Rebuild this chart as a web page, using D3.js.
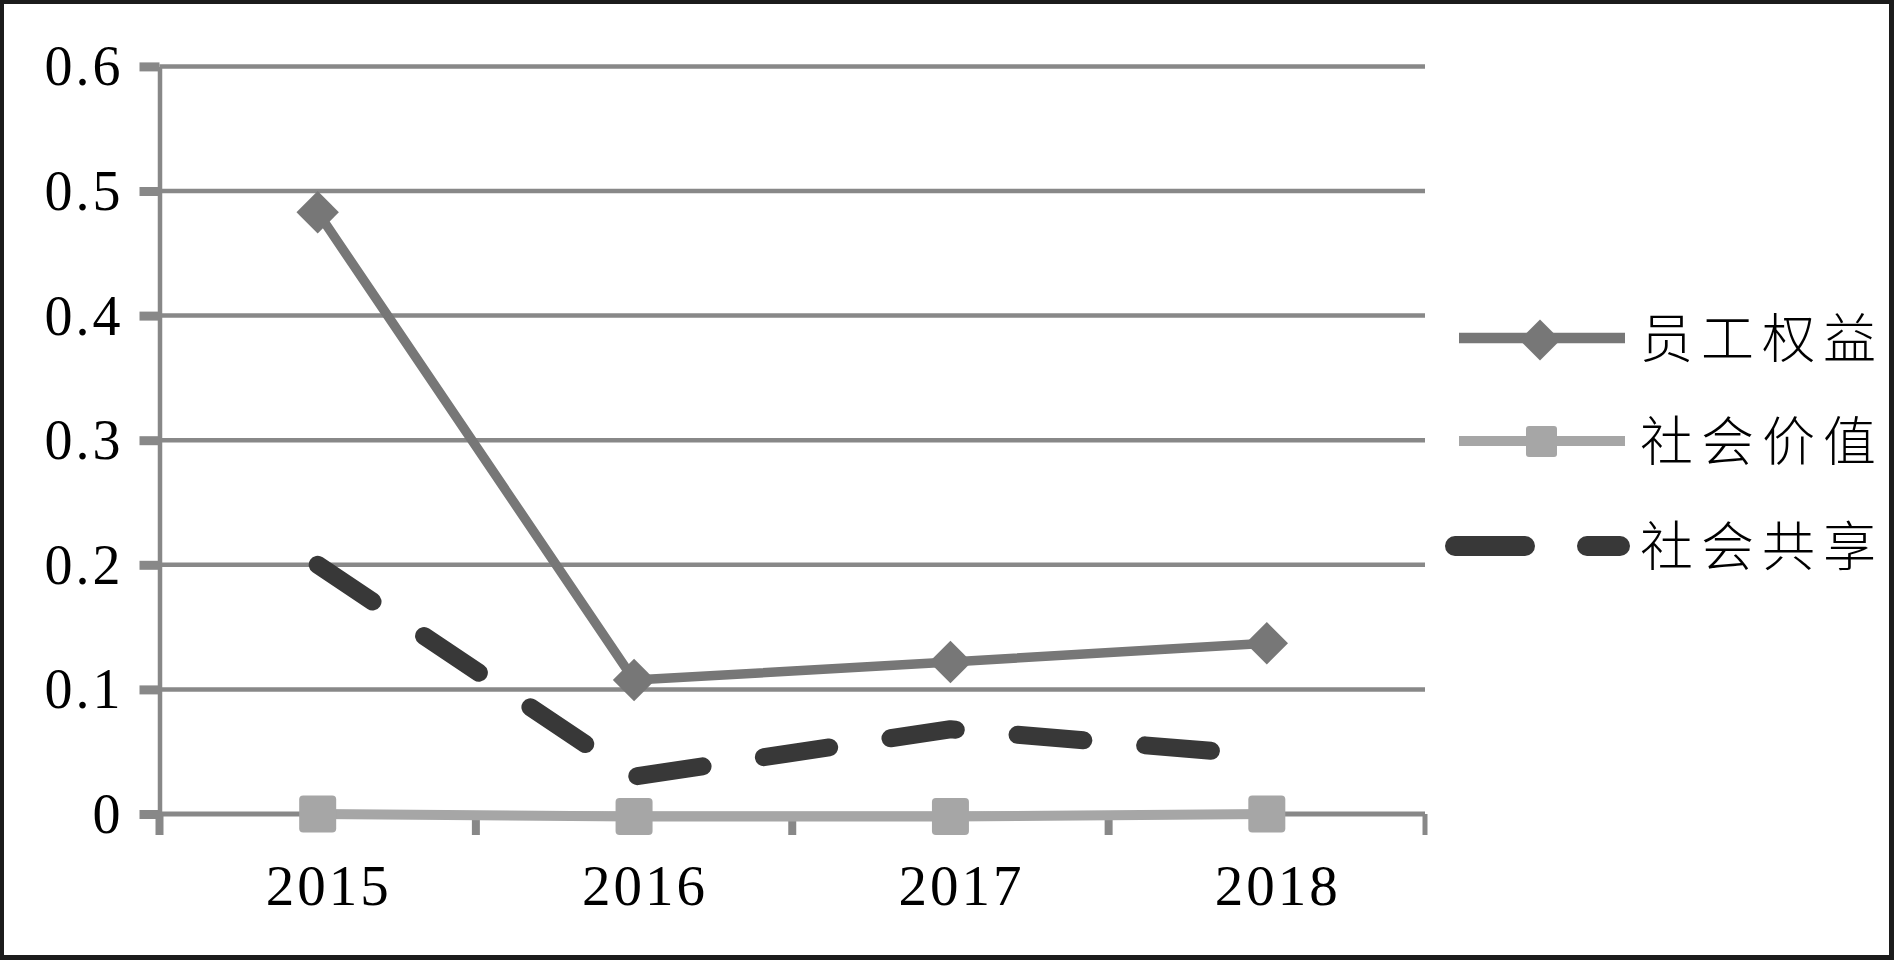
<!DOCTYPE html>
<html><head><meta charset="utf-8">
<script src="https://cdn.jsdelivr.net/npm/d3@7"></script>
<style>html,body{margin:0;padding:0;background:#1c1c1c;overflow:hidden}</style>
</head><body>
<svg id="c" width="1894" height="960"></svg>
<script>
const categories = ["2015", "2016", "2017", "2018"];
const employeeRights = [0.483, 0.1075, 0.122, 0.137];
const socialValue = [0, -0.002, -0.002, 0];
const socialSharing = [0.2, 0.03, 0.068, 0.047];
const yTicks = [0, 0.1, 0.2, 0.3, 0.4, 0.5, 0.6];
const yTickLabels = ["0", "0.1", "0.2", "0.3", "0.4", "0.5", "0.6"];
const seriesNames = ["员工权益", "社会价值", "社会共享"];

const svg = d3.select("#c");
svg.append("rect").attr("x", 4).attr("y", 4).attr("width", 1885).attr("height", 951).attr("fill", "#fff");

const x = d3.scaleBand().domain(categories).range([159.5, 1425]).padding(0);
const cx = c => x(c) + x.bandwidth() / 2;
const y = d3.scaleLinear().domain([0, 0.6]).range([814, 66.4]);
const gridC = "#888888";
const serif = "'Liberation Serif','Times New Roman',serif";

// gridlines
svg.append("g").selectAll("line").data(yTicks.filter(v => v !== 0)).join("line")
  .attr("x1", 159.5).attr("x2", 1425).attr("y1", d => y(d)).attr("y2", d => y(d))
  .attr("stroke", gridC).attr("stroke-width", 4.5);

// y axis
const yAxis = svg.append("g").attr("transform", "translate(159.5,0)")
  .call(d3.axisLeft(y).tickValues(yTicks).tickFormat((d, i) => yTickLabels[i]).tickSize(20).tickSizeOuter(0).tickPadding(16));
yAxis.select(".domain").attr("stroke", gridC).attr("stroke-width", 4.5);
yAxis.selectAll(".tick line").attr("stroke", gridC).attr("stroke-width", 9);
yAxis.selectAll(".tick text").attr("font-family", serif).attr("font-size", 56)
  .attr("letter-spacing", 3).attr("fill", "#000").attr("dy", "0.33em");

// x axis baseline
svg.append("line").attr("x1", 140).attr("x2", 1425).attr("y1", y(0)).attr("y2", y(0))
  .attr("stroke", gridC).attr("stroke-width", 5);
const bounds = categories.map(c => x(c)).concat([x.range()[1]]);
svg.append("g").selectAll("line").data(bounds).join("line")
  .attr("x1", d => d).attr("x2", d => d).attr("y1", y(0)).attr("y2", y(0) + 21)
  .attr("stroke", gridC).attr("stroke-width", (d, i) => i === bounds.length - 1 ? 5 : 8);

const xAxis = svg.append("g").attr("transform", `translate(0,${y(0)})`)
  .call(d3.axisBottom(x).tickSize(0).tickPadding(0));
xAxis.select(".domain").remove();
xAxis.selectAll(".tick text").attr("font-family", serif).attr("font-size", 57)
  .attr("letter-spacing", 3).attr("fill", "#000").attr("y", 91).attr("dy", 0).attr("dx", 11);

const line = d3.line().x((d, i) => cx(categories[i])).y(d => y(d));

// 员工权益
svg.append("path").datum(employeeRights).attr("d", line).attr("fill", "none")
  .attr("stroke", "#777777").attr("stroke-width", 9.5).attr("stroke-linejoin", "round");
svg.append("g").selectAll("path").data(employeeRights).join("path")
  .attr("d", d3.symbol(d3.symbolSquare, 900))
  .attr("transform", (d, i) => `translate(${cx(categories[i])},${y(d)}) rotate(45)`)
  .attr("fill", "#777777");

// 社会价值
svg.append("path").datum(socialValue).attr("d", line).attr("fill", "none")
  .attr("stroke", "#a6a6a6").attr("stroke-width", 10);
svg.append("g").selectAll("rect").data(socialValue).join("rect")
  .attr("x", (d, i) => cx(categories[i]) - 18.5).attr("y", d => y(d) - 18.5)
  .attr("width", 37).attr("height", 37).attr("rx", 4).attr("fill", "#a6a6a6");

// 社会共享
svg.append("path").datum(socialSharing).attr("d", line).attr("fill", "none")
  .attr("stroke", "#383838").attr("stroke-width", 18).attr("stroke-dasharray", "66,62")
  .attr("stroke-linecap", "round").attr("stroke-linejoin", "round");

// legend
const legY = [338, 441, 546];
const lg = svg.append("g");
// row 1
lg.append("line").attr("x1", 1459).attr("x2", 1625).attr("y1", legY[0]).attr("y2", legY[0])
  .attr("stroke", "#777777").attr("stroke-width", 10.5);
lg.append("path").attr("d", d3.symbol(d3.symbolSquare, 840))
  .attr("transform", `translate(1540,${legY[0] + 2}) rotate(45)`).attr("fill", "#777777");
// row 2
lg.append("line").attr("x1", 1459).attr("x2", 1625).attr("y1", legY[1]).attr("y2", legY[1])
  .attr("stroke", "#a6a6a6").attr("stroke-width", 10);
lg.append("rect").attr("x", 1526).attr("y", legY[1] - 15).attr("width", 31).attr("height", 31)
  .attr("rx", 3).attr("fill", "#a6a6a6");
// row 3
lg.append("line").attr("x1", 1455).attr("x2", 1620).attr("y1", legY[2]).attr("y2", legY[2])
  .attr("stroke", "#383838").attr("stroke-width", 20).attr("stroke-dasharray", "70,62")
  .attr("stroke-linecap", "round");

lg.selectAll("text").data(seriesNames).join("text")
  .attr("x", 1640).attr("y", (d, i) => legY[i] - 3)
  .attr("dominant-baseline", "central")
  .attr("font-family", "'Noto Sans CJK SC','Noto Sans CJK JP',sans-serif").attr("font-weight", 300)
  .attr("font-size", 53).attr("letter-spacing", 8).attr("fill", "#000")
  .text(d => d);
</script>
</body></html>
